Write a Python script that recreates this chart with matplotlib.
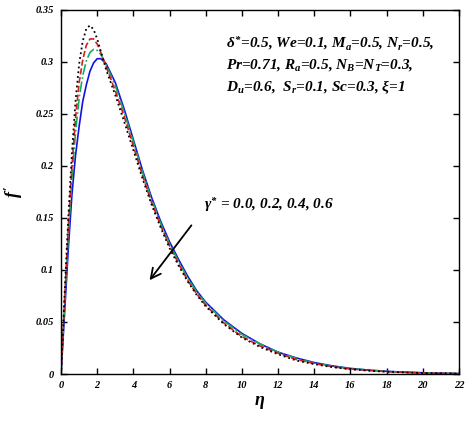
import numpy as np
import matplotlib
matplotlib.use("Agg")
import matplotlib.pyplot as plt

plt.rcParams['mathtext.fontset'] = 'custom'
plt.rcParams['mathtext.rm'] = 'Liberation Serif:bold:italic'
plt.rcParams['mathtext.it'] = 'Liberation Serif:bold:italic'
plt.rcParams['mathtext.bf'] = 'Liberation Serif:bold:italic'

# velocity profiles f'(eta) for gamma* = 0.0, 0.2, 0.4, 0.6
eta = [0, 0.2, 0.4, 0.6, 0.8, 1.0, 1.2, 1.4, 1.6, 1.8, 2.0, 2.2, 2.5, 3.0, 3.5,
       4.0, 4.5, 5.0, 5.5, 6.0, 6.5, 7.0, 7.5, 8.0, 9, 10, 11, 12, 13, 14, 15,
       16, 17, 18, 19, 20, 21, 22]
f_g00 = [0, 0.060, 0.120, 0.172, 0.210, 0.238, 0.262, 0.278, 0.291, 0.299, 0.303,
         0.303, 0.298, 0.280, 0.254, 0.225, 0.196, 0.170, 0.147, 0.127, 0.110,
         0.094, 0.080, 0.069, 0.052, 0.039, 0.029, 0.021, 0.0155, 0.011, 0.0078,
         0.0054, 0.0038, 0.0026, 0.0018, 0.0012, 0.0008, 0.0005]
f_g02 = [0, 0.068, 0.133, 0.188, 0.232, 0.265, 0.287, 0.301, 0.309, 0.312, 0.311,
         0.307, 0.297, 0.277, 0.251, 0.223, 0.194, 0.168, 0.145, 0.125, 0.108,
         0.092, 0.079, 0.068, 0.051, 0.038, 0.029, 0.021, 0.015, 0.0105, 0.0075,
         0.0052, 0.0037, 0.0025, 0.0017, 0.0011, 0.0007, 0.0004]
f_g04 = [0, 0.073, 0.141, 0.199, 0.246, 0.280, 0.302, 0.316, 0.322, 0.322, 0.317,
         0.309, 0.295, 0.272, 0.247, 0.219, 0.191, 0.165, 0.143, 0.123, 0.106,
         0.090, 0.077, 0.066, 0.049, 0.036, 0.027, 0.020, 0.014, 0.010, 0.007,
         0.0048, 0.0034, 0.0023, 0.0016, 0.0010, 0.0007, 0.0004]
f_g06 = [0, 0.078, 0.150, 0.212, 0.262, 0.298, 0.320, 0.332, 0.335, 0.331, 0.322,
         0.310, 0.292, 0.268, 0.242, 0.215, 0.188, 0.163, 0.141, 0.121, 0.104,
         0.089, 0.076, 0.065, 0.048, 0.035, 0.026, 0.019, 0.013, 0.0095, 0.0066,
         0.0046, 0.0032, 0.0022, 0.0015, 0.0010, 0.0007, 0.0004]

xticks = [0, 2, 4, 6, 8, 10, 12, 14, 16, 18, 20, 22]
yticks = [0, 0.05, 0.1, 0.15, 0.2, 0.25, 0.3, 0.35]
ytick_labels = ['0', '0.05', '0.1', '0.15', '0.2', '0.25', '0.3', '0.35']

fig = plt.figure(figsize=(4.66, 4.26), dpi=100)
ax = fig.add_axes([0.131, 0.122, 0.854, 0.855])

ax.plot(eta, f_g00, color='#1010e0', lw=1.2, ls='-')
ax.plot(eta, f_g02, color='#10b060', lw=1.2, ls='-.')
ax.plot(eta, f_g04, color='#d02020', lw=1.2, ls='--')
ax.plot(eta, f_g06, color='k', lw=1.3, ls=':')

ax.set_xlim(0, 22)
ax.set_ylim(0, 0.35)
ax.set_xticks(xticks)
ax.set_xticklabels([str(t) for t in xticks])
ax.set_yticks(yticks)
ax.set_yticklabels(ytick_labels)
ax.tick_params(direction='in', top=True, right=True, length=4, width=1,
               labelsize=7.5, pad=5)
for lab in ax.get_xticklabels() + ax.get_yticklabels():
    lab.set_family('Liberation Serif')
    lab.set_fontweight('bold')
    lab.set_fontstyle('italic')
for sp in ax.spines.values():
    sp.set_linewidth(1.0)

ax.set_xlabel(r'$\eta$', fontsize=13, labelpad=2)
ax.set_ylabel(r"$f'$", fontsize=13, labelpad=8)

txt = dict(fontsize=11, family='Liberation Serif', fontweight='bold',
           style='italic', va='center', ha='left')
ax.text(9.1, 0.318, r"$\delta^{*}$=0.5, We=0.1, M$_a$=0.5, N$_r$=0.5,", **txt)
ax.text(9.1, 0.297, r"Pr=0.71, R$_a$=0.5, N$_B$=N$_T$=0.3,", **txt)
ax.text(9.1, 0.276, r"D$_u$=0.6,  S$_r$=0.1, Sc=0.3, $\xi$=1", **txt)
ax.text(7.9, 0.162, r"$\gamma^{*}$ = 0.0, 0.2, 0.4, 0.6", **txt)

ax.annotate('', xy=(4.8, 0.088), xytext=(7.3, 0.145),
            arrowprops=dict(arrowstyle='->', lw=1.3, color='k',
                            mutation_scale=18))

fig.savefig('out.png', dpi=100)
